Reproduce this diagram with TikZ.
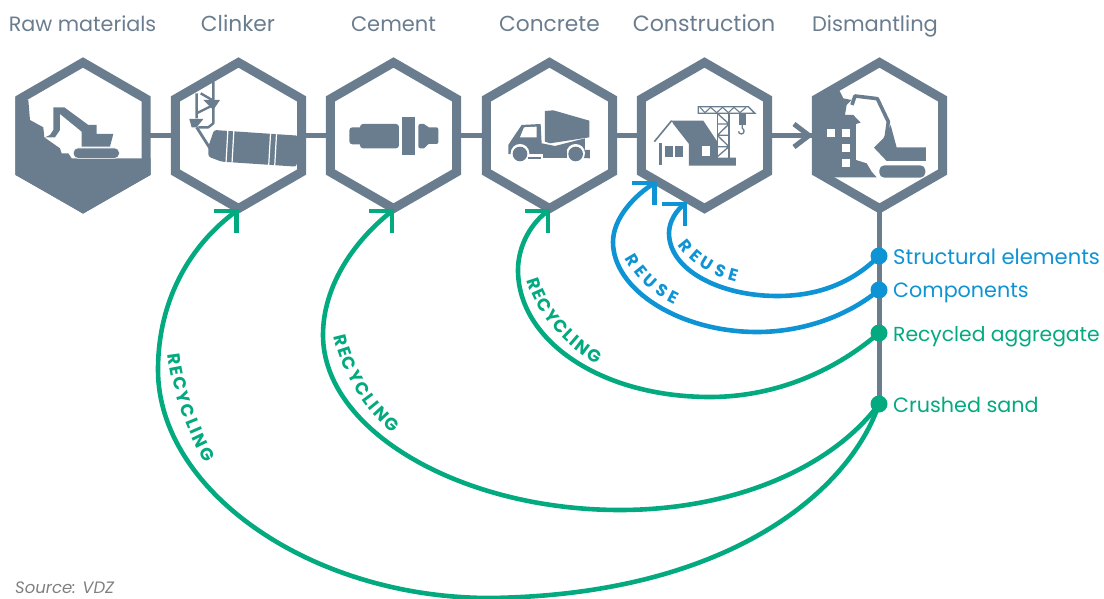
\documentclass[tikz,border=0pt]{standalone}
\usepackage{fontspec}
\setmainfont{Poppins}
\newfontfamily\lbfam{Poppins}
\usetikzlibrary{shapes.geometric,decorations.text}
\definecolor{slate}{HTML}{6A7D8E}
\definecolor{bluec}{HTML}{0E93D4}
\definecolor{greenc}{HTML}{03A97F}
\definecolor{srcgrey}{HTML}{808080}
\newcommand{\lbfont}{\lbfam\fontsize{17.5}{17.5}\selectfont\bfseries}
\newcommand{\lbfontb}{\lbfam\fontsize{17}{17}\selectfont\bfseries}
\tikzset{
  hexa/.style={regular polygon,regular polygon sides=6,shape border rotate=30,draw=slate,line width=9pt,miter limit=10,minimum size=146pt,inner sep=0pt,outer sep=0pt},
  link/.style={draw=slate,line width=4.6pt},
  title/.style={text=slate,font=\fontsize{#1}{#1}\selectfont,anchor=base,inner sep=0pt},
  title/.default=21,
  dotn/.style={circle,minimum size=17pt,inner sep=0pt,fill=#1},
  item/.style={text=#1,anchor=base west,inner sep=0pt},
  flow/.style={draw=#1,line width=4.6pt,line cap=butt},
  barb/.style={draw=#1,line width=4.6pt,miter limit=10},
  icon/.style={fill=slate,draw=none},
  gap/.style={fill=white,draw=none},
  zoomA/.style={xshift=0pt,yshift=-50pt,x=0.3333pt,y=-0.3333pt},
  zoomB/.style={xshift=320pt,yshift=-50pt,x=0.3333pt,y=-0.3333pt},
  zoomC/.style={xshift=620pt,yshift=-50pt,x=0.3333pt,y=-0.3333pt},
}
\begin{document}
\begin{tikzpicture}[x=1pt,y=-1pt]
\useasboundingbox (0,0) rectangle (1104,599);
% hexagons
\node[hexa] (h1) at (83,135.5) {};
\node[hexa] (h2) at (238.5,135.5) {};
\node[hexa] (h3) at (393.5,135.5) {};
\node[hexa] (h4) at (549.5,135.5) {};
\node[hexa] (h5) at (704.5,135.5) {};
\node[hexa] (h6) at (879.5,135.5) {};
% titles
\node[title=20.7] (t1) at (82.5,32) {Raw materials};
\node[title=21.7] (t2) at (238,32) {Clinker};
\node[title=21] (t3) at (393.5,32) {Cement};
\node[title=21.7] (t4) at (549.5,32) {Concrete};
\node[title=22.1] (t5) at (704,32) {Construction};
\node[title=21] (t6) at (875,32) {Dismantling};
% links
\draw[link] (h1) -- (h2);
\draw[link] (h2) -- (h3);
\draw[link] (h3) -- (h4);
\draw[link] (h4) -- (h5);
\draw[link] (h5) -- (h6);
\draw[draw=slate,line width=5pt,miter limit=10] (794,124) -- (809,135.5) -- (794,147);
% right-hand nodes
\coordinate (lineend) at (879.5,404);
\draw[link,line width=5pt] (h6) -- (lineend);
% icon 1
\begin{scope}[zoomA]
\fill[icon] (46,140) -- (85,150) -- (90,210) -- (130,232) -- (133,262) -- (180,295) -- (185,310) -- (205,310) -- (215,325) -- (452,325) -- (452,375) -- (250,490) -- (46,375) -- cycle;
\fill[icon] (160,172) -- (193,172) -- (265,225) -- (290,225) -- (290,252) -- (340,252) -- (330,290) -- (245,290) -- (245,245) -- (180,192) -- (180,240) -- (165,262) -- (135,262) -- (150,255) -- (160,240) -- cycle;
\fill[icon,draw=white,line width=0.6pt,rounded corners=4.5pt] (220,294) rectangle (358,325);
\end{scope}
% icon 2
\begin{scope}[zoomA]
\fill[icon,rounded corners=2.5pt] (642,240) -- (895,257) -- (890,350) -- (665,335) -- (625,320) -- (625,290) -- cycle;
\draw[white,line width=1.2pt] (684,236) -- (678,340) (702,236) -- (696,342);
\draw[white,line width=1.2pt] (812,245) -- (806,350) (830,245) -- (824,352);
\draw[slate,line width=2.4pt,line join=round] (640,95) -- (640,220) -- (625,232) -- (595,232);
\draw[slate,line width=2.4pt] (590,130) -- (590,205) (590,190) -- (650,160) (602,130) -- (640,152);
\draw[slate,line width=2.8pt] (590,232) -- (630,295);
\fill[icon] (610,150) -- (660,150) -- (640,180) -- cycle;
\fill[icon] (568,207) -- (610,207) -- (590,232) -- (575,232) -- cycle;
\end{scope}
% icon 3
\begin{scope}[zoomB]
\fill[icon] (245,200) rectangle (285,315);
\fill[icon,rounded corners=3pt] (88,232) rectangle (130,283);
\fill[icon,rounded corners=3pt] (120,222) -- (237,222) -- (237,295) -- (120,295) -- cycle;
\fill[icon,rounded corners=2pt] (295,222) -- (318,222) -- (320,232) -- (355,232) -- (355,282) -- (320,282) -- (318,295) -- (295,295) -- cycle;
\end{scope}
% icon 4
\begin{scope}[zoomB]
\fill[icon] (675,183) -- (700,181) -- (808,212) -- (808,262) -- (690,280) -- (675,275) -- cycle;
\fill[icon] (565,285) -- (578,265) -- (605,225) -- (662,222) -- (665,280) -- (705,288) -- (795,265) -- (795,300) -- (810,300) -- (810,325) -- (565,312) -- cycle;
\fill[gap] (612,232) -- (650,230) -- (650,262) -- (600,262) -- cycle;
\fill[gap] (600,310) circle[radius=28];
\fill[gap] (767,310) circle[radius=28];
\fill[gap] (622,312) rectangle (745,335);
\fill[icon] (668,302) rectangle (740,325);
\fill[icon] (625,320) rectangle (662,326);
\fill[icon] (600,312) circle[radius=22];
\fill[icon] (767,312) circle[radius=22];
\end{scope}
% icon 5
\begin{scope}[zoomC]
\draw[slate,line width=1.6pt] (103,275) -- (155,212);
\draw[slate,line width=3pt] (120,280) -- (120,346);
\fill[icon] (155,212) -- (250,212) -- (292,275) -- (292,323) -- (348,323) -- (348,347) -- (207,347) -- (207,282) -- (160,222) -- cycle;
\fill[icon] (135,288) rectangle (160,320);
\fill[icon] (165,288) rectangle (188,320);
\fill[gap] (245,288) rectangle (270,318);
\draw[slate,line width=1.3pt] (292,190) -- (292,323) (327,190) -- (327,323);
\draw[slate,line width=1.3pt] (292,222) -- (327,222) (292,256) -- (327,256) (292,290) -- (327,290) (292,190) -- (327,222) (327,222) -- (292,256) (292,256) -- (327,290) (327,290) -- (292,320);
\draw[slate,line width=1.3pt,miter limit=10] (235,170) -- (385,170) -- (405,190) -- (235,190) -- cycle;
\draw[slate,line width=1.1pt] (240,172) -- (255,188) -- (272,172) -- (290,188) -- (308,172) -- (325,188) -- (342,172) -- (360,188) -- (378,172);
\fill[icon] (358,190) rectangle (378,225);
\draw[slate,line width=1.3pt] (367,225) -- (367,235) .. controls (376,240) and (372,252) .. (364,252) .. controls (358,252) and (356,248) .. (356,244);
\end{scope}
% icon 6
\begin{scope}[zoomC]
\fill[icon] (577,140) -- (650,110) -- (660,125) -- (670,145) -- (695,150) -- (680,165) -- (675,195) -- (700,195) -- (722,218) -- (708,222) -- (708,330) -- (740,340) -- (755,365) -- (770,382) -- (645,382) -- (577,375) -- cycle;
\fill[gap] (621,238) rectangle (645,260);
\fill[gap] (667,238) rectangle (690,260);
\fill[gap] (667,283) rectangle (690,305);
\fill[gap] (667,328) rectangle (690,352);
\draw[slate,line width=3.6pt,line join=round] (696,165) -- (705,138) -- (772,146) -- (805,215) -- (795,290);
\fill[icon] (762,293) -- (790,265) -- (812,225) -- (830,292) -- (918,292) -- (918,333) -- (800,333) -- cycle;
\fill[icon,rounded corners=5pt] (778,346) rectangle (916,383);
\end{scope}
% feedback curves
\node[dotn=greenc] (dC) at (879,404) {};
\node[dotn=greenc] (dR) at (879,333) {};
\node[dotn=bluec] (dB) at (879,290) {};
\node[dotn=bluec] (dS) at (879,256) {};
\node[item=bluec,font=\fontsize{21.1}{21.1}\selectfont] (lS) at (893,265) {Structural elements};
\node[item=bluec,font=\fontsize{20.7}{20.7}\selectfont] (lB) at (893,297.5) {Components};
\node[item=greenc,font=\fontsize{20.3}{20.3}\selectfont] (lR) at (893,341) {Recycled aggregate};
\node[item=greenc,font=\fontsize{20.7}{20.7}\selectfont] (lC) at (893,412) {Crushed sand};
\coordinate (tipA) at (236.5,211);
\coordinate (tipB) at (392,211);
\coordinate (tipC) at (548,211);
\coordinate (tipD) at (654.5,183);
\coordinate (tipE) at (685,204);
\draw[flow=greenc] (dC.center) .. controls (850,490) and (730,595) .. (490,598) .. controls (310,598) and (158,490) .. (158,370) .. controls (158,300) and (190,245) .. (tipA);
\draw[flow=greenc] (dC.center) .. controls (830,470) and (730,510) .. (620,510) .. controls (460,510) and (323,430) .. (323,335) .. controls (323,285) and (355,240) .. (tipB);
\draw[flow=greenc] (dR.center) .. controls (830,375) and (770,397) .. (710,397) .. controls (600,397) and (518,340) .. (518,270) .. controls (518,245) and (532,222) .. (tipC);
\draw[flow=bluec] (dB.center) .. controls (845,318) and (800,332) .. (757,332) .. controls (680,332) and (613,290) .. (613,242) .. controls (613,218) and (635,195) .. (tipD);
\draw[flow=bluec] (dS.center) .. controls (850,285) and (815,296) .. (777,296) .. controls (720,296) and (669,270) .. (669,233) .. controls (669,222) and (676,210) .. (tipE);
% corner arrowheads
\draw[barb=greenc] ([xshift=-23pt]tipA) -- (tipA) -- ([yshift=-22pt]tipA);
\draw[barb=greenc] ([xshift=-23pt]tipB) -- (tipB) -- ([yshift=-22pt]tipB);
\draw[barb=greenc] ([xshift=-23pt]tipC) -- (tipC) -- ([yshift=-22pt]tipC);
\draw[barb=bluec] ([xshift=-23pt]tipD) -- (tipD) -- ([yshift=-22pt]tipD);
\draw[barb=bluec] ([xshift=-23pt]tipE) -- (tipE) -- ([yshift=-22pt]tipE);
% curved labels
\path[postaction={decorate,decoration={text along path,text align={fit to path},text={|\lbfont\color{greenc}|RECYCLING}}}] (168,354) .. controls (172,390) and (186,430) .. (205,463);
\path[postaction={decorate,decoration={text along path,text align={fit to path},text={|\lbfont\color{greenc}|RECYCLING}}}] (334,336) .. controls (341,370) and (362,408) .. (393,433);
\path[postaction={decorate,decoration={text along path,text align={fit to path},text={|\lbfont\color{greenc}|RECYCLING}}}] (527,280) .. controls (535,310) and (560,343) .. (597,364);
\path[postaction={decorate,decoration={text along path,text align={fit to path},text={|\lbfontb\color{bluec}|REUSE}}}] (625,258) .. controls (635,277) and (650,293) .. (675,305);
\path[postaction={decorate,decoration={text along path,text align={fit to path},text={|\lbfontb\color{bluec}|REUSE}}}] (678,245) .. controls (690,262) and (708,275) .. (736,282);
% source
\node[text=srcgrey,font=\fontsize{16.5}{16.5}\selectfont\itshape,anchor=base west,inner sep=0pt] (src) at (15,593) {Source: VDZ};
\end{tikzpicture}
\end{document}
